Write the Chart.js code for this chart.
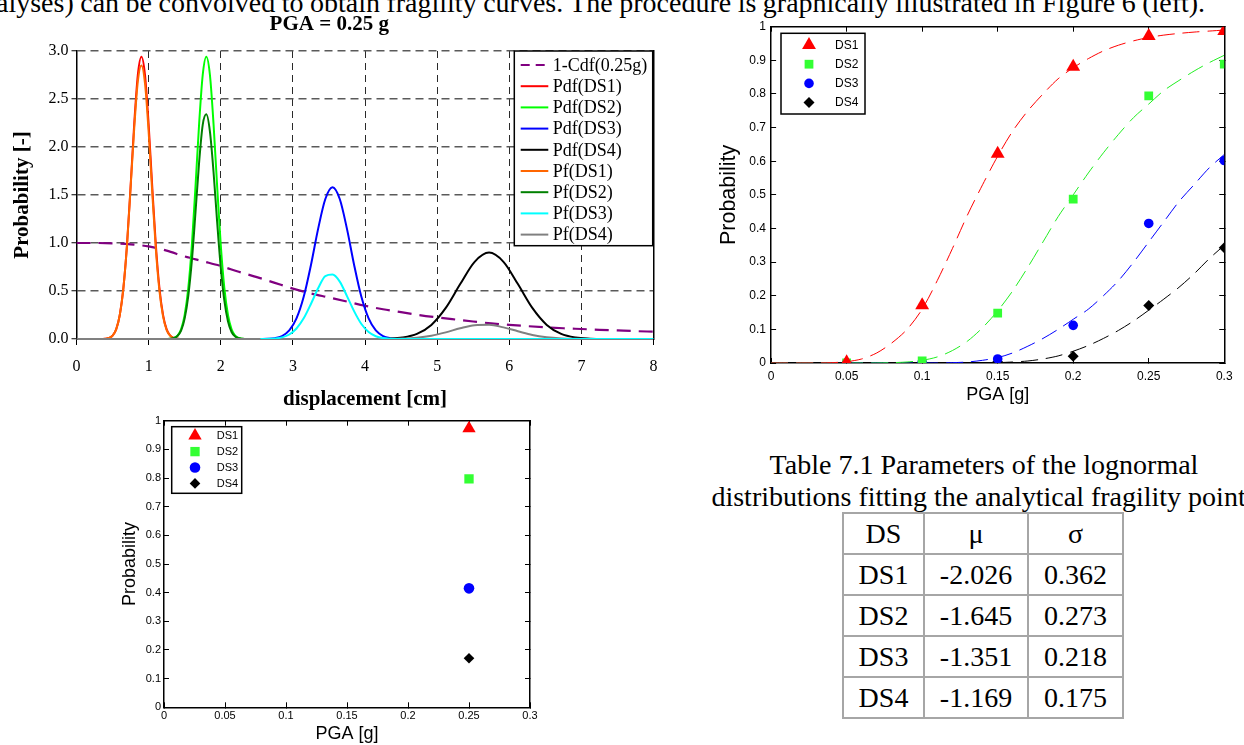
<!DOCTYPE html>
<html>
<head>
<meta charset="utf-8">
<script src="https://cdn.jsdelivr.net/npm/chart.js@4.4.1/dist/chart.umd.min.js"></script>
<style>
  html, body { margin:0; padding:0; background:#fff; }
  body { width:1244px; height:745px; position:relative; overflow:hidden;
         font-family:'Liberation Serif','Times New Roman',serif; color:#000; }
  canvas { position:absolute; }
  #c1 { left:0; top:0; }
  #c2 { left:690px; top:0; }
  #c3 { left:100px; top:400px; }
  .txt { position:absolute; white-space:nowrap; font-size:28px; line-height:32px; }
  #bodyLine { left:-4px; top:-13px; word-spacing:-0.5px; }
  #caption { left:700px; width:568px; top:449px; text-align:center; }
  #ptab { position:absolute; left:842px; top:512px; border-collapse:collapse; table-layout:fixed;
          font-size:28px; line-height:1; }
  #ptab td { border:2px solid #a6a6a6; text-align:center; vertical-align:middle; padding:0; }
  #ptab tr { height:41px; }
</style>
</head>
<body>
<div id="bodyLine" class="txt">alyses) can be convolved to obtain fragility curves. The procedure is graphically illustrated in Figure 6 (left).</div>
<div id="caption" class="txt">Table 7.1 Parameters of the lognormal<br>distributions fitting the analytical fragility points</div>
<table id="ptab">
  <colgroup><col style="width:81px"><col style="width:104px"><col style="width:95px"></colgroup>
  <tbody id="ptabBody"></tbody>
</table>

<canvas id="c1" width="670" height="420"></canvas>
<canvas id="c2" width="554" height="410"></canvas>
<canvas id="c3" width="450" height="345"></canvas>

<script>
// ======================= DATA =======================
// --- Chart 1: PGA = 0.25 g (displacement in cm) ---
const dispTicks = [0, 1, 2, 3, 4, 5, 6, 7, 8];
const probTicksPdf = [0, 0.5, 1, 1.5, 2, 2.5, 3];

const cdfX = [0,0.25,0.5,0.75,1,1.25,1.5,1.75,2,2.25,2.5,2.75,3,3.25,3.5,3.75,4,4.25,4.5,4.75,5,5.25,5.5,5.75,6,6.25,6.5,6.75,7,7.25,7.5,7.75,8];
const cdfY = [1.0,1.0,0.997,0.985,0.965,0.92,0.86,0.81,0.76,0.70,0.645,0.585,0.525,0.475,0.433,0.39,0.346,0.31,0.28,0.25,0.225,0.203,0.182,0.163,0.147,0.134,0.122,0.112,0.104,0.096,0.089,0.082,0.076];

const ds1X   = [0.35,0.40,0.45,0.50,0.55,0.60,0.65,0.70,0.75,0.80,0.85,0.90,0.95,1.00,1.05,1.10,1.15,1.20,1.25,1.30,1.35,1.40,1.45];
const ds1Pdf = [0,0.003,0.011,0.036,0.10,0.25,0.53,0.98,1.59,2.24,2.75,2.94,2.75,2.24,1.59,0.98,0.53,0.25,0.10,0.036,0.011,0.003,0];
const ds1Pf  = [0,0.003,0.011,0.036,0.10,0.25,0.53,0.975,1.575,2.19,2.68,2.85,2.66,2.16,1.53,0.935,0.50,0.235,0.093,0.033,0.010,0.003,0];

const ds2X   = [1.25,1.30,1.35,1.40,1.45,1.50,1.55,1.60,1.65,1.70,1.75,1.80,1.85,1.90,1.95,2.00,2.05,2.10,2.15,2.20,2.25,2.30,2.35];
const ds2Pdf = [0,0.003,0.011,0.036,0.10,0.25,0.53,0.98,1.59,2.24,2.75,2.94,2.75,2.24,1.59,0.98,0.53,0.25,0.10,0.036,0.011,0.003,0];
const ds2Pf  = [0,0.003,0.010,0.032,0.087,0.215,0.45,0.82,1.32,1.84,2.23,2.34,2.16,1.74,1.22,0.745,0.40,0.185,0.073,0.026,0.008,0.002,0];

const ds3X   = [2.55,2.65,2.75,2.85,2.95,3.05,3.15,3.25,3.35,3.45,3.55,3.65,3.75,3.85,3.95,4.05,4.15,4.25,4.35,4.45,4.55,8];
const ds3Pdf = [0,0.002,0.009,0.031,0.089,0.214,0.439,0.769,1.147,1.458,1.58,1.458,1.147,0.769,0.439,0.214,0.089,0.031,0.009,0.002,0,0];
const ds3Pf  = [0,0.001,0.005,0.017,0.047,0.109,0.215,0.365,0.528,0.656,0.671,0.598,0.447,0.288,0.156,0.073,0.029,0.0096,0.0027,0.0006,0,0];

const ds4X   = [0,4.12,4.32,4.52,4.72,4.92,5.12,5.32,5.52,5.72,5.92,6.12,6.32,6.52,6.72,6.92,7.12,7.32,8];
const ds4Pdf = [0,0.0006,0.0035,0.015,0.053,0.147,0.324,0.572,0.804,0.90,0.804,0.572,0.324,0.147,0.053,0.015,0.0035,0.0006,0];
const ds4Pf  = [0,0.0002,0.0011,0.0042,0.0135,0.034,0.069,0.112,0.144,0.148,0.121,0.081,0.042,0.018,0.006,0.0016,0.0004,0.0001,0];

const pdfNames  = ['1-Cdf(0.25g)','Pdf(DS1)','Pdf(DS2)','Pdf(DS3)','Pdf(DS4)','Pf(DS1)','Pf(DS2)','Pf(DS3)','Pf(DS4)'];

// --- Chart 2: fragility points and fitted curves ---
const pgaTicks  = [0, 0.05, 0.1, 0.15, 0.2, 0.25, 0.3];
const probTicks = [0, 0.1, 0.2, 0.3, 0.4, 0.5, 0.6, 0.7, 0.8, 0.9, 1];
const pgaPoints = [0.05, 0.1, 0.15, 0.2, 0.25, 0.3];
const fragDS1 = [0.002, 0.172, 0.622, 0.881, 0.972, 0.987];
const fragDS2 = [0, 0.006, 0.148, 0.487, 0.794, 0.889];
const fragDS3 = [0, 0.002, 0.012, 0.112, 0.415, 0.602];
const fragDS4 = [0, 0, 0.003, 0.02, 0.171, 0.343];

const fitX   = [0,0.01,0.02,0.03,0.04,0.05,0.06,0.07,0.08,0.09,0.10,0.11,0.12,0.13,0.14,0.15,0.16,0.17,0.18,0.19,0.20,0.21,0.22,0.23,0.24,0.25,0.26,0.27,0.28,0.29,0.30];
const fitDS1 = [0,0,0,0,0.001,0.004,0.012,0.03,0.06,0.10,0.16,0.245,0.34,0.44,0.53,0.615,0.69,0.75,0.80,0.845,0.878,0.905,0.928,0.945,0.958,0.968,0.975,0.98,0.984,0.987,0.99];
const fitDS2 = [0,0,0,0,0,0,0,0,0.001,0.003,0.008,0.018,0.037,0.065,0.105,0.155,0.215,0.285,0.36,0.435,0.50,0.565,0.625,0.68,0.73,0.77,0.81,0.84,0.868,0.893,0.915];
const fitDS3 = [0,0,0,0,0,0,0,0,0,0,0,0,0.001,0.003,0.008,0.016,0.03,0.05,0.073,0.10,0.13,0.16,0.20,0.245,0.30,0.36,0.42,0.48,0.53,0.58,0.62];
const fitDS4 = [0,0,0,0,0,0,0,0,0,0,0,0,0,0,0,0.001,0.003,0.006,0.012,0.021,0.035,0.052,0.073,0.097,0.125,0.157,0.19,0.225,0.265,0.31,0.35];

const dsNames = ['DS1', 'DS2', 'DS3', 'DS4'];

// --- Chart 3: fragility points at PGA = 0.25 g ---
const pgaPoint3 = [0.25];
const pt3DS1 = [0.973];
const pt3DS2 = [0.797];
const pt3DS3 = [0.415];
const pt3DS4 = [0.171];

// --- Table 7.1 ---
const tabHeader = ['DS', 'μ', 'σ'];
const tabDS    = ['DS1', 'DS2', 'DS3', 'DS4'];
const tabMu    = ['-2.026', '-1.645', '-1.351', '-1.169'];
const tabSigma = ['0.362', '0.273', '0.218', '0.175'];

// ======================= BUILD =======================
(function buildTable() {
  const body = document.getElementById('ptabBody');
  const rows = [tabHeader].concat(tabDS.map((d, i) => [d, tabMu[i], tabSigma[i]]));
  rows.forEach(r => {
    const tr = document.createElement('tr');
    r.forEach(c => { const td = document.createElement('td'); td.textContent = c; tr.appendChild(td); });
    body.appendChild(tr);
  });
})();

Chart.defaults.color = '#000';
const serif = "'Liberation Serif', 'Times New Roman', serif";
const sans  = "'Liberation Sans', Arial, sans-serif";
Chart.defaults.font.family = sans;

function xy(xs, ys) { return xs.map((x, i) => ({x: x, y: ys[i]})); }
function fixedTicks(arr) { return function (scale) { scale.ticks = arr.map(v => ({value: v})); }; }
function setWidth(w) { return function (s) { s.width = w; }; }
function setHeight(h) { return function (s) { s.height = h; }; }

function drawMarker(ctx, style, x, y, r, color) {
  ctx.save();
  ctx.fillStyle = color;
  ctx.beginPath();
  if (style === 'triangle') {
    ctx.moveTo(x, y - r); ctx.lineTo(x + r * 0.866, y + r * 0.5); ctx.lineTo(x - r * 0.866, y + r * 0.5);
  } else if (style === 'rect') {
    const s = r * Math.SQRT1_2; ctx.rect(x - s, y - s, 2 * s, 2 * s);
  } else if (style === 'circle') {
    ctx.arc(x, y, r, 0, Math.PI * 2);
  } else if (style === 'rectRot') {
    ctx.moveTo(x, y - r); ctx.lineTo(x + r, y); ctx.lineTo(x, y + r); ctx.lineTo(x - r, y);
  }
  ctx.closePath(); ctx.fill(); ctx.restore();
}

// legend box drawn inside the plot (like the MATLAB legends)
function boxLegend(cfg) {
  return {
    id: 'boxLegend',
    afterDraw(chart) {
      const ctx = chart.ctx;
      const items = cfg.indices.map(i => chart.data.datasets[i]);
      ctx.save();
      ctx.fillStyle = '#fff';
      ctx.fillRect(cfg.x, cfg.y, cfg.w, cfg.h);
      ctx.lineWidth = cfg.borderWidth; ctx.strokeStyle = '#000';
      ctx.strokeRect(cfg.x, cfg.y, cfg.w, cfg.h);
      items.forEach((ds, k) => {
        const y = cfg.rowY0 + k * cfg.rowStep;
        if (cfg.kind === 'line') {
          ctx.save();
          ctx.strokeStyle = ds.borderColor; ctx.lineWidth = ds.borderWidth;
          ctx.setLineDash(ds.borderDash && ds.borderDash.length ? [9, 6] : []);
          ctx.beginPath(); ctx.moveTo(cfg.sampleX0, y); ctx.lineTo(cfg.sampleX1, y); ctx.stroke();
          ctx.restore();
        } else {
          drawMarker(ctx, ds.pointStyle, cfg.markerX, y, ds.pointRadius, ds.backgroundColor);
        }
        ctx.fillStyle = '#000'; ctx.font = cfg.font;
        ctx.textAlign = 'left'; ctx.textBaseline = 'middle';
        ctx.fillText(ds.label, cfg.textX, y + (cfg.textDy || 0));
      });
      ctx.restore();
    }
  };
}

// ---------- Chart 1 ----------
const pdfColors = ['#800080','#ff0000','#00ff00','#0000ff','#000000','#ff6600','#008000','#00ffff','#808080'];
const series1 = [[cdfX, cdfY],[ds1X, ds1Pdf],[ds2X, ds2Pdf],[ds3X, ds3Pdf],[ds4X, ds4Pdf],
                 [ds1X, ds1Pf],[ds2X, ds2Pf],[ds3X, ds3Pf],[ds4X, ds4Pf]];
const drawRank1 = [0, 1, 2, 3, 4, 5, 6, 8, 7];   // bottom -> top stacking
new Chart(document.getElementById('c1'), {
  type: 'line',
  data: {
    datasets: series1.map((s, i) => ({
      label: pdfNames[i], data: xy(s[0], s[1]),
      borderColor: pdfColors[i], backgroundColor: pdfColors[i],
      borderWidth: i === 0 ? 2.2 : 2, pointRadius: 0, fill: false,
      cubicInterpolationMode: 'monotone',
      borderDash: i === 0 ? [14, 8] : [],
      order: 20 - drawRank1[i]
    }))
  },
  options: {
    responsive: false, animation: false, events: [],
    layout: { padding: { left: 0, right: 11.5, top: 0, bottom: 0 } },
    plugins: {
      legend: { display: false }, tooltip: { enabled: false },
      title: { display: true, text: 'PGA = 0.25 g', color: '#000',
               font: { family: serif, size: 21, weight: 'bold' }, padding: { top: 12, bottom: 13.8 } }
    },
    scales: {
      x: { type: 'linear', min: 0, max: 8, position: 'bottom',
           afterBuildTicks: fixedTicks(dispTicks), afterFit: setHeight(81),
           ticks: { font: { family: serif, size: 16 }, padding: 12.5, maxRotation: 0, autoSkip: false,
                    callback: v => String(v) },
           grid: { color: '#2a2a2a', lineWidth: 1, tickLength: 6, tickColor: '#000', tickWidth: 1 },
           border: { color: '#808080', width: 2, dash: [7, 5] },
           title: { display: true, text: 'displacement [cm]', font: { family: serif, size: 21, weight: 'bold' },
                    padding: { top: 0, bottom: 7.4 } } },
      y: { type: 'linear', min: 0, max: 3, position: 'left',
           afterBuildTicks: fixedTicks(probTicksPdf), afterFit: setWidth(76.5),
           ticks: { font: { family: serif, size: 16 }, padding: 3, callback: v => v.toFixed(1) },
           grid: { color: '#5a5a5a', lineWidth: 1.5, tickLength: 5, tickColor: '#000', tickWidth: 1 },
           border: { color: '#000', width: 1.5, dash: [8, 5] },
           title: { display: true, text: 'Probability [-]', font: { family: serif, size: 21, weight: 'bold' },
                    padding: { top: 9.9, bottom: 0 } } },
      y2: { type: 'linear', min: 0, max: 3, position: 'right', afterFit: setWidth(0),
            ticks: { display: false }, grid: { display: false },
            border: { display: true, color: '#000', width: 1.5 } }
    }
  },
  plugins: [boxLegend({ kind: 'line', indices: [0,1,2,3,4,5,6,7,8],
    x: 514.3, y: 51, w: 138.4, h: 194.7, borderWidth: 1.5,
    rowY0: 65, rowStep: 21.2, sampleX0: 520.7, sampleX1: 548.3, textX: 552.7,
    font: "18px 'Liberation Serif', 'Times New Roman', serif", textDy: 1 })]
});

// ---------- Chart 2 ----------
const dsColors  = ['#ff0000', '#33ff33', '#0000ff', '#000000'];
const lineColors = ['#ff0000', '#22ee22', '#0000ff', '#000000'];
const dsStyles  = ['triangle', 'rect', 'circle', 'rectRot'];
const fitSeries = [fitDS1, fitDS2, fitDS3, fitDS4];
const ptSeries2 = [fragDS1, fragDS2, fragDS3, fragDS4];
const radius2   = [8, 6.2, 4.8, 5.5];

function frameScales(o) {
  const common = (min, max, ticksArr) => ({ type: 'linear', min: min, max: max, afterBuildTicks: fixedTicks(ticksArr) });
  return {
    x: Object.assign(common(0, 0.3, pgaTicks), { position: 'bottom', afterFit: setHeight(o.bottomH),
        ticks: { font: { size: o.tickSize }, padding: o.xPad, maxRotation: 0, autoSkip: false, callback: v => String(v) },
        grid: { drawOnChartArea: false, tickLength: -5, tickColor: '#000', tickWidth: 1 },
        border: { color: '#000', width: 1.5 },
        title: { display: true, text: 'PGA [g]', font: { size: o.xTitleSize }, padding: { top: 0, bottom: o.xTitlePad } } }),
    x2: Object.assign(common(0, 0.3, pgaTicks), { position: 'top', afterFit: setHeight(o.topH),
        ticks: { display: false },
        grid: { drawOnChartArea: false, tickLength: -5, tickColor: '#000', tickWidth: 1 },
        border: { color: '#000', width: 1.5 } }),
    y: Object.assign(common(0, 1, probTicks), { position: 'left', afterFit: setWidth(o.leftW),
        ticks: { font: { size: o.tickSize }, padding: o.yPad, autoSkip: false, callback: v => String(v) },
        grid: { drawOnChartArea: false, tickLength: -5, tickColor: '#000', tickWidth: 1 },
        border: { color: '#000', width: 1.5 },
        title: { display: true, text: 'Probability', font: { size: o.yTitleSize }, padding: { top: o.yTitlePad, bottom: 0 } } }),
    y2: Object.assign(common(0, 1, probTicks), { position: 'right', afterFit: setWidth(o.rightW),
        ticks: { display: false },
        grid: { drawOnChartArea: false, tickLength: -5, tickColor: '#000', tickWidth: 1 },
        border: { color: '#000', width: 1.5 } })
  };
}

const ds2sets = [];
ptSeries2.forEach((ys, i) => ds2sets.push({
  label: dsNames[i], data: xy(pgaPoints, ys), showLine: false,
  pointStyle: dsStyles[i], pointRadius: radius2[i], pointBorderWidth: 0,
  backgroundColor: dsColors[i], borderColor: dsColors[i], order: 1 + i
}));
fitSeries.forEach((ys, i) => ds2sets.push({
  label: dsNames[i] + ' fit', data: xy(fitX, ys), borderColor: lineColors[i],
  borderWidth: 1, borderDash: [17, 8], pointRadius: 0, fill: false, tension: 0.3, order: 10 + i
}));

new Chart(document.getElementById('c2'), {
  type: 'line',
  data: { datasets: ds2sets },
  options: {
    responsive: false, animation: false, events: [],
    layout: { padding: 0 },
    plugins: { legend: { display: false }, tooltip: { enabled: false } },
    scales: frameScales({ bottomH: 47, topH: 26.7, leftW: 81.1, rightW: 11.4,
                          tickSize: 12, xTitleSize: 18, yTitleSize: 21.5, xPad: 11.4, yPad: 10.1,
                          xTitlePad: 4, yTitlePad: 25.7 })
  },
  plugins: [boxLegend({ kind: 'marker', indices: [0, 1, 2, 3],
    x: 91, y: 33.3, w: 84, h: 80.7, borderWidth: 1.5,
    rowY0: 45, rowStep: 19.2, markerX: 119, textX: 145,
    font: "12px 'Liberation Sans', Arial, sans-serif", textDy: 0.5 })]
});

// ---------- Chart 3 ----------
const ptSeries3 = [pt3DS1, pt3DS2, pt3DS3, pt3DS4];
const radius3   = [7.7, 6.6, 5.3, 5.3];
new Chart(document.getElementById('c3'), {
  type: 'line',
  data: { datasets: ptSeries3.map((ys, i) => ({
    label: dsNames[i], data: xy(pgaPoint3, ys), showLine: false,
    pointStyle: dsStyles[i], pointRadius: radius3[i], pointBorderWidth: 0,
    backgroundColor: dsColors[i], borderColor: dsColors[i]
  })) },
  options: {
    responsive: false, animation: false, events: [],
    layout: { padding: 0 },
    plugins: { legend: { display: false }, tooltip: { enabled: false } },
    scales: frameScales({ bottomH: 37.7, topH: 20.7, leftW: 64, rightW: 20,
                          tickSize: 11, xTitleSize: 18, yTitleSize: 18, xPad: 7.4, yPad: 8,
                          xTitlePad: 0, yTitlePad: 19.2 })
  },
  plugins: [boxLegend({ kind: 'marker', indices: [0, 1, 2, 3],
    x: 71.7, y: 26.7, w: 70, h: 66.6, borderWidth: 1.5,
    rowY0: 35.7, rowStep: 15.9, markerX: 95, textX: 116.7,
    font: "11px 'Liberation Sans', Arial, sans-serif", textDy: 0.5 })]
});
</script>
</body>
</html>
